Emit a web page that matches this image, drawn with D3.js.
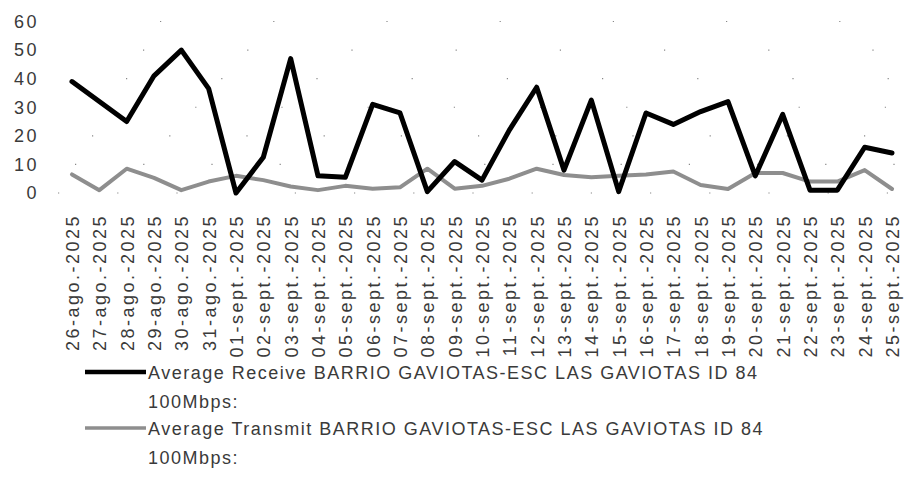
<!DOCTYPE html>
<html>
<head>
<meta charset="utf-8">
<script src="https://cdn.jsdelivr.net/npm/d3@7"></script>
<style>
  html, body { margin: 0; padding: 0; background: #fff; }
  svg { display: block; }
  text { font-family: "Liberation Sans", Arial, sans-serif; }
</style>
</head>
<body>
<svg id="chart" width="905" height="480"></svg>
<script>
const categories = [
  "26-ago.-2025","27-ago.-2025","28-ago.-2025","29-ago.-2025","30-ago.-2025","31-ago.-2025",
  "01-sept.-2025","02-sept.-2025","03-sept.-2025","04-sept.-2025","05-sept.-2025","06-sept.-2025",
  "07-sept.-2025","08-sept.-2025","09-sept.-2025","10-sept.-2025","11-sept.-2025","12-sept.-2025",
  "13-sept.-2025","14-sept.-2025","15-sept.-2025","16-sept.-2025","17-sept.-2025","18-sept.-2025",
  "19-sept.-2025","20-sept.-2025","21-sept.-2025","22-sept.-2025","23-sept.-2025","24-sept.-2025",
  "25-sept.-2025"
];
const receive = [39,32,25,41,50,36.5,0,12.5,47,6,5.5,31,28,0.5,11,4.5,22,37,8,32.5,0.5,28,24,28.5,32,6,27.5,1,1,16,14];
const transmit = [6.5,1,8.5,5.3,1,4,6,4.5,2.3,1,2.5,1.5,2,8.5,1.5,2.5,5,8.5,6.3,5.5,6,6.5,7.5,2.8,1.4,7,7,4,4,8,1.4];
const yTicks = [0,10,20,30,40,50,60];
const legendLabels = [
  ["Average Receive BARRIO GAVIOTAS-ESC LAS GAVIOTAS ID 84", "100Mbps:"],
  ["Average Transmit BARRIO GAVIOTAS-ESC LAS GAVIOTAS ID 84", "100Mbps:"]
];

const svg = d3.select("#chart");
svg.append("rect").attr("width", 905).attr("height", 480).attr("fill", "#fff");

const x = d3.scalePoint().domain(categories).range([72, 892]);
const y = d3.scaleLinear().domain([0, 60]).range([193, 21.5]);

// very sparse dotted gridlines
svg.append("g").selectAll("line").data(yTicks).join("line")
  .attr("x1", 58).attr("x2", 905)
  .attr("y1", d => y(d)).attr("y2", d => y(d))
  .attr("stroke", "#888").attr("stroke-width", 1.2)
  .attr("stroke-dasharray", (d, i) => `1.2 ${58 + i * 9}`)
  .attr("stroke-dashoffset", (d, i) => -(i * 17));

// y axis labels
const yAxis = d3.axisLeft(y).tickValues(yTicks).tickSize(0).tickPadding(0).tickFormat(d3.format("d"));
const yg = svg.append("g").attr("transform", "translate(39,0)").call(yAxis);
yg.select(".domain").remove();
yg.selectAll("text")
  .attr("font-size", 18).attr("letter-spacing", "2.5px")
  .attr("fill", "#3a3a3a").attr("font-family", "Liberation Sans, Arial, sans-serif");

// x axis labels (rotated)
const xAxis = d3.axisBottom(x).tickSize(0).tickPadding(0);
const xg = svg.append("g").attr("transform", "translate(0,214)").call(xAxis);
xg.select(".domain").remove();
xg.selectAll("text")
  .attr("font-size", 18).attr("letter-spacing", "2.5px")
  .attr("fill", "#3a3a3a").attr("font-family", "Liberation Sans, Arial, sans-serif")
  .attr("text-anchor", "end")
  .attr("transform", "rotate(-90)")
  .attr("x", 0).attr("y", 0).attr("dy", "0.36em")
  .attr("dx", 0);

// lines
const line = d3.line().x((d, i) => x(categories[i])).y(d => y(d));
svg.append("path").datum(transmit)
  .attr("d", line).attr("fill", "none")
  .attr("stroke", "#8e8e8e").attr("stroke-width", 4)
  .attr("stroke-linejoin", "round").attr("stroke-linecap", "round");
svg.append("path").datum(receive)
  .attr("d", line).attr("fill", "none")
  .attr("stroke", "#000").attr("stroke-width", 5)
  .attr("stroke-linejoin", "round").attr("stroke-linecap", "round");

// legend
const legendColors = ["#000", "#8e8e8e"];
const legendWidths = [4.5, 3.5];
const legendTop = [372, 428];
const lg = svg.append("g");
legendLabels.forEach((lab, i) => {
  lg.append("line").attr("x1", 85).attr("x2", 146)
    .attr("y1", legendTop[i]).attr("y2", legendTop[i])
    .attr("stroke", legendColors[i]).attr("stroke-width", legendWidths[i]);
  lg.append("text").attr("x", 148).attr("y", legendTop[i] + 6.5)
    .attr("font-size", 18).attr("letter-spacing", "1.5px").attr("fill", "#3a3a3a")
    .text(lab[0]);
  lg.append("text").attr("x", 148).attr("y", legendTop[i] + 35.5)
    .attr("font-size", 18).attr("letter-spacing", "1.5px").attr("fill", "#3a3a3a")
    .text(lab[1]);
});
</script>
</body>
</html>
